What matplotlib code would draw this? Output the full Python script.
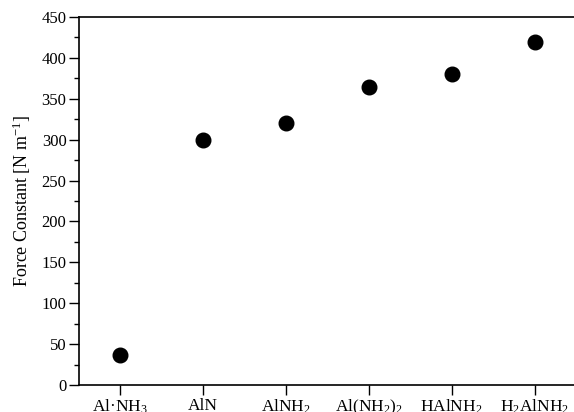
import matplotlib
matplotlib.use("Agg")
import matplotlib.pyplot as plt
from matplotlib.ticker import MultipleLocator

plt.rcParams['font.family'] = ['Liberation Serif', 'DejaVu Serif']
plt.rcParams['mathtext.default'] = 'regular'

# Molecules and their Al-N force constants
species = ['Al·NH$_3$', 'AlN', 'AlNH$_2$', 'Al(NH$_2$)$_2$', 'HAlNH$_2$', 'H$_2$AlNH$_2$']
force_constants = [37, 300, 320, 365, 380, 420]

fig = plt.figure(figsize=(5.74, 4.12), dpi=100)
ax = fig.add_axes([79 / 574, 27 / 412, 497 / 574, 368 / 412])

x = list(range(len(species)))
ax.plot(x, force_constants, 'o', color='black', markersize=10.5, linestyle='none')

ax.set_xlim(-0.5, 5.5)
ax.set_ylim(0, 450)
ax.set_xticks(x)
ax.set_xticklabels(species, fontsize=12.5)
ax.yaxis.set_major_locator(MultipleLocator(50))
ax.yaxis.set_minor_locator(MultipleLocator(25))
ax.tick_params(axis='y', which='major', direction='out', length=7, width=1, labelsize=12, pad=2)
ax.tick_params(axis='y', which='minor', direction='out', length=3.5, width=1)
ax.tick_params(axis='x', which='major', direction='out', length=7, width=1, pad=2)
ax.set_ylabel('Force Constant [N m$^{-1}$]', fontsize=13, labelpad=6)

ax.spines['right'].set_visible(False)
for s in ('left', 'bottom', 'top'):
    ax.spines[s].set_linewidth(1.2)

fig.savefig('out.png', dpi=100)
